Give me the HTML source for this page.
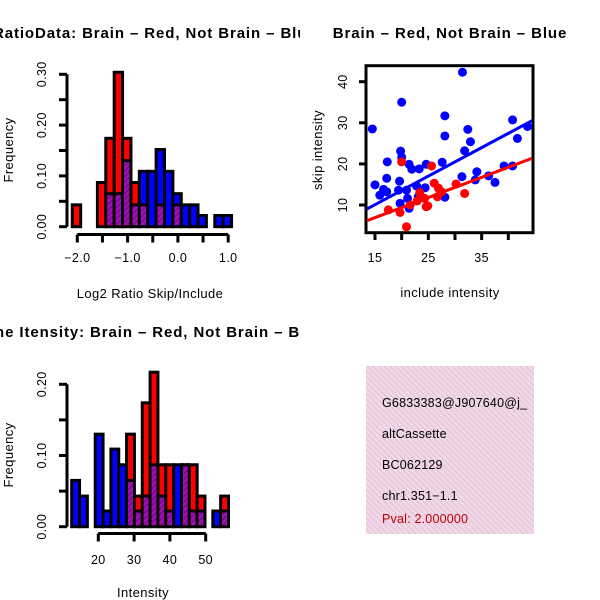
<!DOCTYPE html>
<html><head><meta charset="utf-8"><style>
html,body{margin:0;padding:0;background:#fff;}
svg{display:block;font-family:"Liberation Sans",sans-serif;}
text{letter-spacing:0.4px;}
.ttl{letter-spacing:0.9px;}
.info text{letter-spacing:0.2px;}
</style></head><body>
<svg id="fig" width="600" height="600" viewBox="0 0 600 600">
<defs>
<pattern id="purp" width="4" height="4" patternUnits="userSpaceOnUse" patternTransform="rotate(45)">
<rect width="4" height="4" fill="#a410c0"/><rect width="2" height="4" fill="#7e0a94"/></pattern>
<pattern id="pink" width="4" height="4" patternUnits="userSpaceOnUse" patternTransform="rotate(-45)">
<rect width="4" height="4" fill="#f8d4ee"/><rect width="1.5" height="4" fill="#dccfd2"/></pattern>
<clipPath id="c1"><rect x="0" y="0" width="300" height="300"/></clipPath>
<clipPath id="c3"><rect x="0" y="300" width="300" height="300"/></clipPath>
<clipPath id="cbox"><rect x="366" y="366" width="168" height="168"/></clipPath>
</defs>
<text class="ttl" x="-7" y="38" font-size="15" font-weight="bold" clip-path="url(#c1)">RatioData: Brain – Red, Not Brain – Blue</text>
<text class="ttl" x="450" y="38" font-size="15" font-weight="bold" text-anchor="middle">Brain – Red, Not Brain – Blue</text>
<text class="ttl" x="-5" y="337" font-size="15" font-weight="bold" clip-path="url(#c3)">ne Itensity: Brain – Red, Not Brain – Blue</text>
<g id="p1"></g>
<g id="p2"></g>
<g id="p3"></g>
<g class="info">
<rect x="366" y="366" width="168" height="168" fill="url(#pink)"/>
<g clip-path="url(#cbox)" font-size="12.5">
<text x="382" y="407">G6833383@J907640@j_</text>
<text x="382" y="438">altCassette</text>
<text x="382" y="469">BC062129</text>
<text x="382" y="500">chr1.351−1.1</text>
<text x="382" y="523" fill="#c00000">Pval: 2.000000</text>
</g></g>
</svg>
<script>
// ---- Ratio histogram data ----
const ratioStart = -2.1;
const ratioBinW = 1/6;
const ratioRed  = [0.043,0,0,0.087,0.174,0.304,0.174,0.087,0.043,0,0.043,0,0.043,0,0,0,0,0];
const ratioBlue = [0,0,0,0,0.065,0.065,0.13,0.043,0.109,0.109,0.152,0.109,0.065,0.043,0.043,0.022,0,0.022,0.022];
const ratioXTicks = [-2.0,-1.5,-1.0,-0.5,0.0,0.5,1.0];
const ratioXLabels = ["−2.0","","−1.0","","0.0","","1.0"];
const ratioYTicks = [0,0.05,0.10,0.15,0.20,0.25,0.30];
const ratioYLabels = ["0.00","","0.10","","0.20","","0.30"];
// ---- Intensity histogram data ----
const intStart = 12.57;
const intBinW = 2.19;
const intRed  = [0,0,0,0,0,0,0,0.13,0.043,0.174,0.217,0.087,0.087,0,0.087,0.087,0.043,0,0,0.043];
const intBlue = [0.065,0.043,0,0.13,0.022,0.109,0.087,0.065,0.022,0.043,0.087,0.043,0.022,0.087,0.087,0.022,0.022,0,0.022,0.022];
const intXTicks = [20,30,40,50];
const intYTicks = [0,0.05,0.10,0.15,0.20];
const intYLabels = ["0.00","","0.10","","0.20"];
// ---- Scatter data ----
const blueX = [14.5,20,31.4,28.1,28.1,32.4,32.9,31.8,40.8,41.7,43.6,19.8,20,17.3,21.4,21.9,23.3,24.6,27.6,17.2,15,19.6,16.6,15.9,17.2,19.4,20.9,22.8,24.4,19.7,21.1,21.4,23.1,28.1,31.3,34.1,33.8,36.3,37.5,39.2,40.8];
const blueY = [28.5,35,42.3,31.7,26.8,28.4,25.4,23.2,30.7,26.2,29.1,23.1,21.6,20.5,19.9,18.7,18.8,19.9,20.4,16.5,14.9,15.8,13.8,12.4,13.2,13.6,13.6,14.6,14.2,10.4,11.6,9.2,12,11.9,16.9,18.1,16.1,17.1,15.5,19.5,19.5];
const redX = [20,25.6,20.9,17.5,19.7,21.6,22.9,24.3,24.6,24.9,26.1,26.9,26.7,27.5,30.2,31.8,23.4];
const redY = [20.5,19.5,4.7,8.8,8.2,10,11,11.6,9.6,9.8,15.3,14.1,12,13.2,15.1,12.8,13];
const blueFit = [-0.33,0.694];
const redFit = [-0.42,0.49];
const scXTicks = [15,20,25,30,35,40];
const scXLabels = ["15","","25","","35",""];
const scYTicks = [10,20,30,40];

const NS="http://www.w3.org/2000/svg";
function mk(parent,tag,attrs){const e=document.createElementNS(NS,tag);for(const k in attrs)e.setAttribute(k,attrs[k]);parent.appendChild(e);return e;}

function hist(g,start,w,red,blue,xs,ys,ax,name){
  const n=Math.max(red.length,blue.length);
  for(let i=0;i<n;i++){
    const r=red[i]||0,b=blue[i]||0;
    const x0=xs(start+i*w),x1=xs(start+(i+1)*w);
    const hi=Math.max(r,b),lo=Math.min(r,b);
    if(hi<=0)continue;
    const big=mk(g,'rect',{x:x0,y:ys(hi),width:x1-x0,height:ys(0)-ys(hi),fill:r>=b?'#ff0000':'#0000ff',stroke:'#000','stroke-width':3});
    
    
    if(lo>0){
      const ov=mk(g,'rect',{x:x0+1.5,y:ys(lo),width:x1-x0-3,height:ys(0)-ys(lo)-1.5,fill:'url(#purp)'});
      
      
      const ln=mk(g,'line',{x1:x0,x2:x1,y1:ys(lo),y2:ys(lo),stroke:'#000','stroke-width':3});
      
      
    }
  }
}
function yAxis(g,ticks,labels,ys,x,lx,name){
  mk(g,'line',{x1:x,x2:x,y1:ys(ticks[0]),y2:ys(ticks[ticks.length-1]),stroke:'#000','stroke-width':3});
  ticks.forEach((t,i)=>{
    mk(g,'line',{x1:x-8,x2:x,y1:ys(t),y2:ys(t),stroke:'#000','stroke-width':3});
    if(labels[i]){const tx=mk(g,'text',{x:lx,y:ys(t),'font-size':12.5,'text-anchor':'middle',transform:`rotate(-90 ${lx} ${ys(t)})`});tx.textContent=labels[i];
      
      }
  });
}
function xAxis(g,ticks,labels,xs,y,ly,name){
  mk(g,'line',{x1:xs(ticks[0]),x2:xs(ticks[ticks.length-1]),y1:y,y2:y,stroke:'#000','stroke-width':3});
  ticks.forEach((t,i)=>{
    mk(g,'line',{x1:xs(t),x2:xs(t),y1:y,y2:y+8,stroke:'#000','stroke-width':3});
    if(labels[i]){const tx=mk(g,'text',{x:xs(t),y:ly,'font-size':12.5,'text-anchor':'middle'});tx.textContent=labels[i];
      
      }
  });
}
function label(g,txt,x,y,rot,name){const t=mk(g,'text',{x:x,y:y,'font-size':13,'text-anchor':'middle'});if(rot)t.setAttribute('transform',`rotate(-90 ${x} ${y})`);t.textContent=txt;
  
  }

// Panel 1
(function(){
  const g=document.getElementById('p1');
  const xs=v=>77.3+(v+2)*50.3, ys=v=>226.7-v*508;
  hist(g,ratioStart,ratioBinW,ratioRed,ratioBlue,xs,ys,null,'ratio');
  yAxis(g,ratioYTicks,ratioYLabels,ys,67,46,'ratio');
  xAxis(g,ratioXTicks,ratioXLabels,xs,234.5,262,'ratio');
  label(g,'Frequency',13,150,true,'ratio-y-axis-title');
  label(g,'Log2 Ratio Skip/Include',150,298,false,'ratio-x-axis-title');
})();
// Panel 3
(function(){
  const g=document.getElementById('p3');
  const xs=v=>98.3+(v-20)*3.58, ys=v=>526.7-v*712;
  hist(g,intStart,intBinW,intRed,intBlue,xs,ys,null,'intensity');
  yAxis(g,intYTicks,intYLabels,ys,67,46,'intensity');
  xAxis(g,intXTicks,intXTicks.map(String),xs,533.5,564,'intensity');
  label(g,'Frequency',13,455,true,'intensity-y-axis-title');
  label(g,'Intensity',143,597,false,'intensity-x-axis-title');
})();
// Panel 2
(function(){
  const g=document.getElementById('p2');
  const xs=v=>375+(v-15)*5.333, ys=v=>205-(v-10)*4.11;
  const box=mk(g,'rect',{x:366,y:65.7,width:167,height:167,fill:'none',stroke:'#000','stroke-width':3});
  
  
  mk(g,'clipPath',{id:'cs'}).appendChild(document.createElementNS(NS,'rect'));
  const cr=document.querySelector('#cs rect');cr.setAttribute('x',367);cr.setAttribute('y',67);cr.setAttribute('width',165);cr.setAttribute('height',165);
  const pts=mk(g,'g',{'clip-path':'url(#cs)'});
  blueX.forEach((x,i)=>{const c=mk(pts,'circle',{cx:xs(x),cy:ys(blueY[i]),r:4.5,fill:'#0000ff'});
    
    });
  redX.forEach((x,i)=>{const c=mk(pts,'circle',{cx:xs(x),cy:ys(redY[i]),r:4.5,fill:'#ff0000'});
    
    });
  const xa=13,xb=45;
  const bl=mk(pts,'line',{x1:xs(xa),y1:ys(blueFit[0]+blueFit[1]*xa),x2:xs(xb),y2:ys(blueFit[0]+blueFit[1]*xb),stroke:'#0000ff','stroke-width':3});
  
  
  const rl=mk(pts,'line',{x1:xs(xa),y1:ys(redFit[0]+redFit[1]*xa),x2:xs(xb),y2:ys(redFit[0]+redFit[1]*xb),stroke:'#ff0000','stroke-width':3});
  
  
  scYTicks.forEach(t=>{mk(g,'line',{x1:359,x2:366,y1:ys(t),y2:ys(t),stroke:'#000','stroke-width':3});
    const tx=mk(g,'text',{x:347,y:ys(t),'font-size':12.5,'text-anchor':'middle',transform:`rotate(-90 347 ${ys(t)})`});tx.textContent=String(t);
    
    });
  scXTicks.forEach((t,i)=>{mk(g,'line',{x1:xs(t),x2:xs(t),y1:233,y2:240,stroke:'#000','stroke-width':3});
    if(scXLabels[i]){const tx=mk(g,'text',{x:xs(t),y:262,'font-size':12.5,'text-anchor':'middle'});tx.textContent=scXLabels[i];
    
    }});
  label(g,'skip intensity',322,150,true,'scatter-y-axis-title');
  label(g,'include intensity',450,297,false,'scatter-x-axis-title');
})();
</script>
</body></html>
